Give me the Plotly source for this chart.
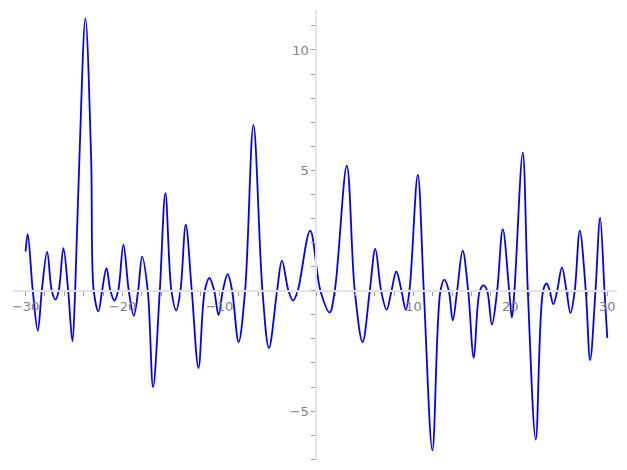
import plotly.graph_objects as go

# Points (extrema and axis crossings)
x_vals = [
    -30.0, -29.78, -29.26, -28.74, -28.33, -27.78, -27.30, -26.92, -26.58, -26.10,
    -25.61, -25.17, -24.89, -24.45, -23.83, -23.24, -22.97, -22.49, -22.11, -21.66,
    -21.25, -20.84, -20.45, -19.91, -19.36, -18.84, -18.39, -17.98, -17.40, -16.85,
    -16.16, -15.58, -14.96, -14.47, -14.03, -13.48, -12.86, -12.17, -11.52, -11.04,
    -10.55, -10.10, -9.66, -9.15, -8.70, -8.03, -7.36, -6.50, -5.57, -4.90,
    -4.06, -3.56, -2.89, -2.41, -1.93, -0.65, 0.41, 1.36, 1.89, 3.13,
    3.95, 4.76, 5.50, 6.07, 6.67, 7.24, 7.74, 8.24, 8.77, 9.21,
    9.59, 10.45, 11.07, 11.96, 12.79, 13.20, 13.65, 14.06, 14.51, 15.08,
    15.65, 16.23, 16.85, 17.26, 17.61, 18.10, 18.64, 19.22, 19.88, 20.16,
    20.42, 21.28, 21.80, 22.62, 23.38, 23.74, 24.06, 24.43, 24.83, 25.32,
    25.79, 26.20, 26.64, 27.16, 27.78, 28.23, 28.78, 29.26, 29.71, 30.0,
]
y_vals = [
    1.63, 2.35, 0.0, -1.66, 0.0, 1.61, 0.0, -0.37, 0.0, 1.77,
    0.0, -2.10, 0.0, 5.5, 11.31, 5.5, 0.0, -0.86, 0.0, 0.94,
    0.0, -0.41, 0.0, 1.91, 0.0, -1.04, 0.0, 1.42, 0.0, -4.00,
    0.0, 4.05, 0.0, -0.82, 0.0, 2.74, 0.0, -3.21, 0.0, 0.53,
    0.0, -1.01, 0.0, 0.69, 0.0, -2.13, 0.0, 6.89, 0.0, -2.38,
    0.0, 1.25, 0.0, -0.41, 0.0, 2.50, 0.0, -0.90, 0.0, 5.20,
    0.0, -2.13, 0.0, 1.74, 0.0, -0.79, 0.0, 0.80, 0.0, -0.79,
    0.0, 4.81, 0.0, -6.63, 0.0, 0.46, 0.0, -1.23, 0.0, 1.67,
    0.0, -2.79, 0.0, 0.22, 0.0, -1.41, 0.0, 2.56, 0.0, -1.11,
    0.0, 5.74, 0.0, -6.18, 0.0, 0.30, 0.0, -0.56, 0.0, 0.97,
    0.0, -0.93, 0.0, 2.50, 0.0, -2.89, 0.0, 3.04, 0.0, -1.96,
]

x_ticks = [-30, -20, -10, 10, 20, 30]
y_ticks = [-5, 5, 10]

x_range = [-31.3, 31.0]
y_range = [-7.03, 11.66]

fig = go.Figure()
fig.add_trace(go.Scatter(
    x=x_vals, y=y_vals, mode="lines",
    line=dict(color="#0000ff", width=1.8, shape="spline", smoothing=1.0),
    hoverinfo="skip", showlegend=False,
))

text_color = "#808080"
tick_color = "#a0a0a0"
axis_color = "#e3e3e3"

x_pos = (0 - y_range[0]) / (y_range[1] - y_range[0])
y_pos = (0 - x_range[0]) / (x_range[1] - x_range[0])

# page body has an 8px default margin, so the figure is sized to fit inside it
fig.update_layout(
    width=611, height=454,
    margin=dict(l=5, r=2, t=2, b=2, autoexpand=False),
    plot_bgcolor="white", paper_bgcolor="white",
    font=dict(family="DejaVu Sans", size=13, color=text_color),
    xaxis=dict(
        range=x_range, anchor="free", position=x_pos, automargin=False,
        showgrid=False, zeroline=False,
        showline=True, linecolor=axis_color, linewidth=2,
        tickmode="array", tickvals=x_ticks,
        ticktext=[("\u2212" + str(-v)) if v < 0 else str(v) for v in x_ticks],
        ticks="outside", ticklen=4, tickwidth=1, tickcolor=tick_color,
        minor=dict(dtick=2, tick0=0, ticks="outside", ticklen=4, tickwidth=1,
                   tickcolor=tick_color, showgrid=False),
        tickfont=dict(color=text_color, size=13),
    ),
    yaxis=dict(
        range=y_range, anchor="free", position=y_pos, automargin=False,
        showgrid=False, zeroline=False,
        showline=True, linecolor=axis_color, linewidth=2,
        tickmode="array", tickvals=y_ticks,
        ticktext=[("\u2212" + str(-v)) if v < 0 else str(v) for v in y_ticks],
        ticks="outside", ticklen=4, tickwidth=1, tickcolor=tick_color,
        minor=dict(dtick=1, tick0=0, ticks="outside", ticklen=4, tickwidth=1,
                   tickcolor=tick_color, showgrid=False),
        tickfont=dict(color=text_color, size=13),
    ),
)

fig.write_html("out.html")
